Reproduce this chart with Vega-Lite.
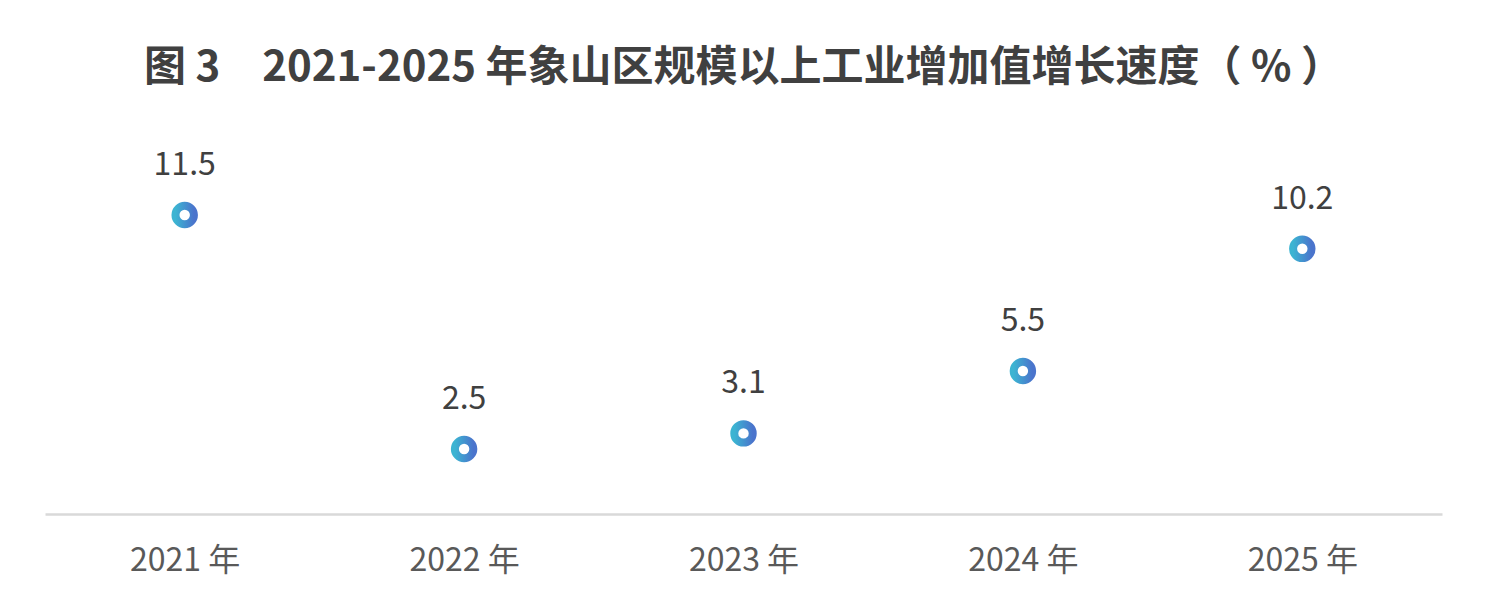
{
  "$schema": "https://vega.github.io/schema/vega-lite/v6.json",
  "autosize": "none",
  "padding": {"left": 45, "top": 150, "right": 46, "bottom": 92},
  "width": 1397,
  "height": 364,
  "background": "white",
  "title": {
    "text": "图 3　2021-2025 年象山区规模以上工业增加值增长速度（ % ）",
    "font": "Noto Sans CJK SC",
    "fontSize": 42,
    "fontWeight": "bold",
    "color": "#404040",
    "anchor": "middle",
    "offset": 59
  },
  "data": {
    "values": [
      {"year": "2021 年", "growth": 11.5},
      {"year": "2022 年", "growth": 2.5},
      {"year": "2023 年", "growth": 3.1},
      {"year": "2024 年", "growth": 5.5},
      {"year": "2025 年", "growth": 10.2}
    ]
  },
  "config": {
    "view": {"stroke": null}
  },
  "encoding": {
    "x": {
      "field": "year",
      "type": "nominal",
      "sort": null,
      "title": null,
      "scale": {"type": "point", "padding": 0.5},
      "axis": {
        "domainColor": "#d9d9d9",
        "domainWidth": 2.5,
        "ticks": false,
        "grid": false,
        "labelAngle": 0,
        "labelFont": "Noto Sans CJK SC",
        "labelFontSize": 32,
        "labelColor": "#595959",
        "labelPadding": 31
      }
    },
    "y": {
      "field": "growth",
      "type": "quantitative",
      "scale": {"domain": [0, 14]},
      "axis": null
    }
  },
  "layer": [
    {
      "mark": {
        "type": "point",
        "filled": true,
        "fill": "white",
        "size": 340,
        "strokeWidth": 8,
        "opacity": 1,
        "stroke": {
          "gradient": "linear",
          "x1": 0, "x2": 1, "y1": 0, "y2": 0,
          "stops": [
            {"offset": 0, "color": "#3cb4d2"},
            {"offset": 1, "color": "#4a74cc"}
          ]
        }
      }
    },
    {
      "mark": {
        "type": "text",
        "font": "Noto Sans CJK SC",
        "fontSize": 32,
        "color": "#404040",
        "baseline": "middle",
        "dy": -50
      },
      "encoding": {"text": {"field": "growth", "type": "quantitative", "format": ".1f"}}
    }
  ]
}
